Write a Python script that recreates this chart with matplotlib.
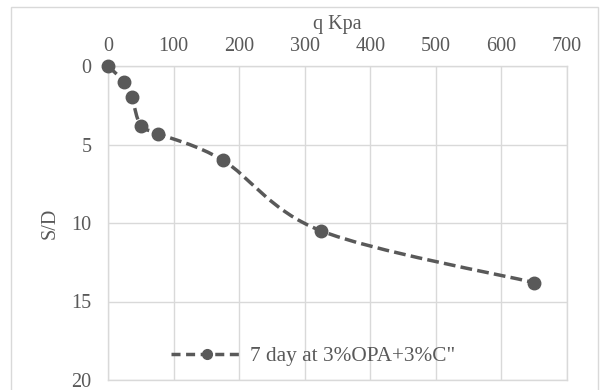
import numpy as np
import matplotlib
matplotlib.use("Agg")
import matplotlib.pyplot as plt
from matplotlib.path import Path
from matplotlib.patches import PathPatch, Rectangle
from matplotlib.lines import Line2D

q = [0, 24, 36, 50, 76, 175, 325, 650]
sd = [0, 1.0, 2.0, 3.8, 4.3, 6.0, 10.5, 13.8]
label = '7 day at 3%OPA+3%C"'
xticks = [0, 100, 200, 300, 400, 500, 600, 700]
yticks = [0, 5, 10, 15, 20]

line_c = "#595959"
grid_c = "#d9d9d9"
text_c = "#595959"
fs = 14.5
dash = (0, (3.4, 1.5))

plt.rcParams["font.family"] = ["Liberation Serif", "DejaVu Serif"]

fig = plt.figure(figsize=(6.01, 3.9), dpi=100)
# chart area border (bottom edge falls outside the picture)
fig.patches.append(Rectangle((11 / 601, -10 / 390), 587 / 601, 393 / 390,
                             transform=fig.transFigure, fill=False,
                             edgecolor=grid_c, lw=1))
ax = fig.add_axes([108 / 601, 1 - 380 / 390, 459 / 601, 314 / 390])

ax.set_xlim(0, 700)
ax.set_ylim(20, 0)
ax.set_xticks(xticks)
ax.set_yticks(yticks)
ax.xaxis.tick_top()
ax.tick_params(length=0, labelsize=fs, colors=text_c)
ax.tick_params(axis="x", pad=7)
ax.tick_params(axis="y", pad=12)
ax.grid(True, color=grid_c, lw=1)
for s in ax.spines.values():
    s.set_color(grid_c)
    s.set_linewidth(1)
ax.set_axisbelow(True)

# smoothed line through the points (Catmull-Rom as cubic Bezier)
pts = np.column_stack([q, sd]).astype(float)
verts = [pts[0]]
codes = [Path.MOVETO]
n = len(pts)
for i in range(n - 1):
    p0 = pts[i - 1] if i > 0 else pts[i]
    p1 = pts[i]
    p2 = pts[i + 1]
    p3 = pts[i + 2] if i + 2 < n else pts[i + 1]
    c1 = p1 + (p2 - p0) / 6
    c2 = p2 - (p3 - p1) / 6
    verts += [c1, c2, p2]
    codes += [Path.CURVE4] * 3
patch = PathPatch(Path(verts, codes), fill=False, edgecolor=line_c, lw=2.5,
                  linestyle=dash, capstyle="butt")
ax.add_patch(patch)
ax.plot(q, sd, "o", color=line_c, ms=9, clip_on=False, zorder=3)

ax.text(0.5, 1 + 41 / 314, "q Kpa", transform=ax.transAxes, ha="center",
        va="center", fontsize=fs, color=text_c)
ax.set_ylabel("S/D", fontsize=fs, color=text_c, labelpad=8)

handle = Line2D([], [], color=line_c, lw=2.5, linestyle=(0, (2.6, 1.6)),
                marker="o", ms=7)
fig.legend([handle], [label], loc="center", bbox_to_anchor=(313 / 601, 1 - 356 / 390),
           frameon=False, fontsize=15.3, labelcolor=text_c, handlelength=3.4,
           handletextpad=0.3)

fig.savefig("out.png", dpi=100)
